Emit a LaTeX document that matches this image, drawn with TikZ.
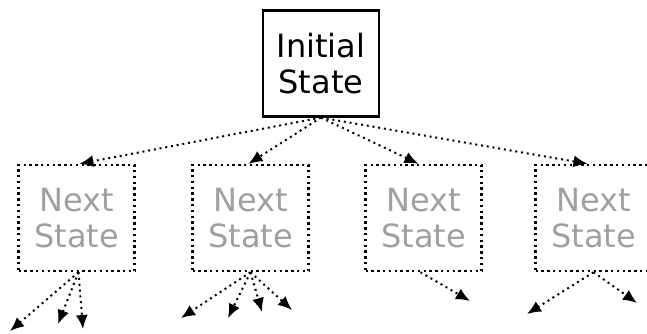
\documentclass[tikz,border=0pt]{standalone}
\usepackage{fontspec}
\setmainfont{DejaVu Sans}
\usetikzlibrary{arrows.meta}
\definecolor{nextgray}{RGB}{160,160,160}
\tikzset{
  statebox/.style={draw, line width=2.2pt, minimum width=116pt, minimum height=106pt,
    align=center, inner sep=0pt, font=\fontsize{32}{36}\selectfont},
  nextbox/.style={statebox, line width=2.4pt, dash pattern=on 2.4pt off 3.4pt, text=nextgray},
  move/.style={line width=2pt, dash pattern=on 2pt off 3.8pt, -{Latex[length=14pt,width=12pt]}}
}
\begin{document}
\begin{tikzpicture}[x=1pt, y=-1pt]
        \useasboundingbox (0, 0) rectangle (647, 333);
        \clip (0, 0) rectangle (647, 333);

        \node[statebox] (init) at (321, 63.5) {Initial\\State};

        \node[nextbox] (next1) at (76.5, 218) {Next\\State};
        \node[nextbox] (next2) at (250.5, 218) {Next\\State};
        \node[nextbox] (next3) at (423.5, 218) {Next\\State};
        \node[nextbox] (next4) at (593.5, 218) {Next\\State};

        \draw[move] (init.south) -- ([xshift=3pt]next1.north);
        \draw[move] (init.south) -- ([xshift=-2pt]next2.north);
        \draw[move] (init.south) -- ([xshift=-5pt]next3.north);
        \draw[move] (init.south) -- ([xshift=-6pt]next4.north);

        \coordinate (a1) at (10, 331);
        \coordinate (a2) at (58, 324);
        \coordinate (a3) at (83, 329);
        \draw[move] ([xshift=2pt]next1.south) -- (a1);
        \draw[move] ([xshift=2pt]next1.south) -- (a2);
        \draw[move] ([xshift=2pt]next1.south) -- (a3);

        \coordinate (b1) at (181, 318);
        \coordinate (b2) at (228, 318);
        \coordinate (b3) at (262, 312);
        \coordinate (b4) at (292, 310);
        \draw[move] (next2.south) -- (b1);
        \draw[move] (next2.south) -- (b2);
        \draw[move] (next2.south) -- (b3);
        \draw[move] (next2.south) -- (b4);

        \coordinate (c1) at (470, 301);
        \draw[move] ([xshift=-3pt]next3.south) -- (c1);

        \coordinate (d1) at (527, 314);
        \coordinate (d2) at (637, 303);
        \draw[move] (next4.south) -- (d1);
        \draw[move] (next4.south) -- (d2);
\end{tikzpicture}
\end{document}
